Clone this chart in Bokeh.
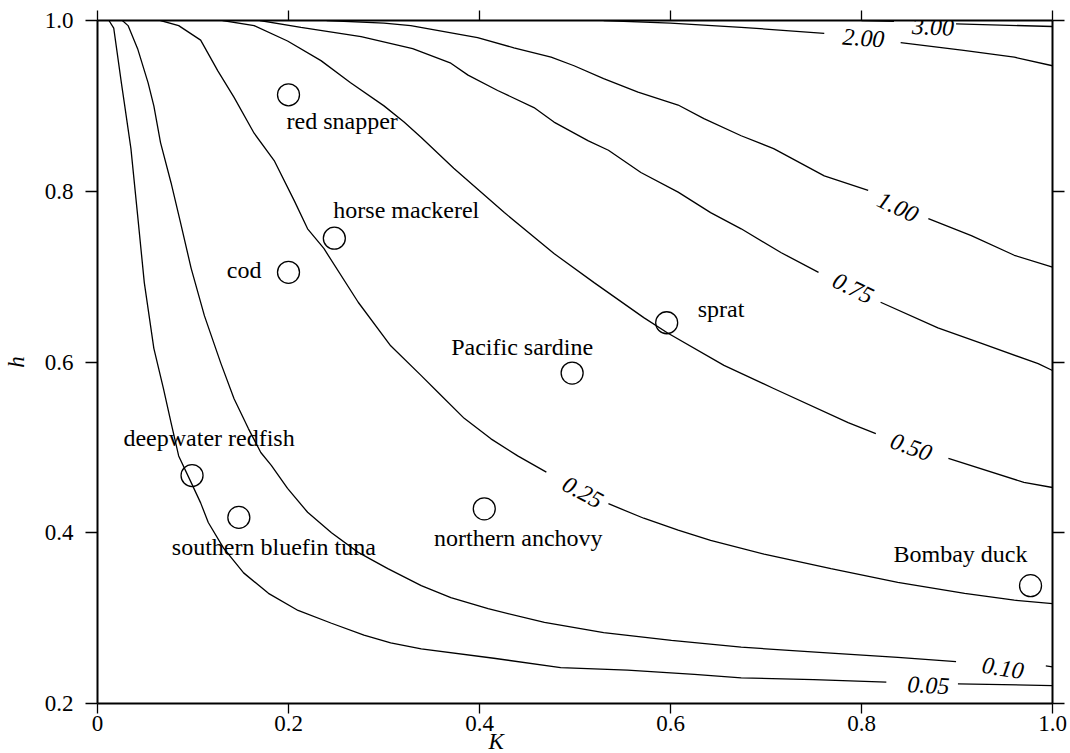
import numpy as np
from bokeh.plotting import figure
from bokeh.models import Range1d, LinearAxis, FixedTicker, ColumnDataSource, LabelSet, Title
from bokeh.core.properties import value
from bokeh.embed import file_html
from bokeh.resources import INLINE

# ---------------- data ----------------
# contour lines over (K, h)
c005_K = [0.012, 0.017, 0.025, 0.028, 0.035, 0.042, 0.049, 0.059, 0.069, 0.077, 0.085, 0.098, 0.108, 0.116,
          0.132, 0.153, 0.179, 0.210, 0.245, 0.279, 0.307, 0.339, 0.415, 0.485, 0.555, 0.625, 0.674, 0.750,
          0.826, 0.901, 1.0]
c005_h = [1.0, 0.991, 0.927, 0.904, 0.850, 0.772, 0.693, 0.616, 0.569, 0.529, 0.490, 0.459, 0.435, 0.412,
          0.382, 0.353, 0.329, 0.309, 0.294, 0.280, 0.271, 0.264, 0.253, 0.242, 0.239, 0.234, 0.230, 0.228,
          0.225, 0.223, 0.221]

c010_K = [0.026, 0.032, 0.042, 0.053, 0.059, 0.066, 0.077, 0.087, 0.098, 0.112, 0.129, 0.143, 0.158, 0.171,
          0.182, 0.199, 0.220, 0.245, 0.273, 0.304, 0.339, 0.370, 0.409, 0.468, 0.530, 0.601, 0.674, 0.768,
          0.838, 0.899, 0.993, 1.0]
c010_h = [1.0, 0.994, 0.967, 0.927, 0.900, 0.857, 0.810, 0.763, 0.710, 0.654, 0.599, 0.557, 0.522, 0.494,
          0.479, 0.452, 0.424, 0.400, 0.377, 0.358, 0.338, 0.324, 0.311, 0.295, 0.283, 0.274, 0.266, 0.259,
          0.254, 0.249, 0.244, 0.243]

c025_K = [0.066, 0.085, 0.108, 0.126, 0.143, 0.164, 0.185, 0.206, 0.220, 0.237, 0.273, 0.307, 0.339, 0.357,
          0.384, 0.412, 0.440, 0.470, 0.535, 0.572, 0.608, 0.642, 0.698, 0.768, 0.838, 0.908, 0.960, 1.0]
c025_h = [1.0, 0.994, 0.977, 0.941, 0.910, 0.868, 0.836, 0.789, 0.756, 0.733, 0.670, 0.619, 0.584, 0.564,
          0.534, 0.510, 0.490, 0.471, 0.434, 0.417, 0.403, 0.391, 0.375, 0.358, 0.342, 0.329, 0.321, 0.317]

c050_K = [0.131, 0.164, 0.199, 0.234, 0.265, 0.300, 0.321, 0.339, 0.373, 0.426, 0.478, 0.520, 0.572, 0.597,
          0.656, 0.708, 0.786, 0.815, 0.891, 0.970, 1.0]
c050_h = [1.0, 0.994, 0.976, 0.953, 0.927, 0.900, 0.881, 0.863, 0.827, 0.775, 0.727, 0.693, 0.652, 0.634,
          0.596, 0.569, 0.529, 0.516, 0.487, 0.459, 0.453]

c075_K = [0.17, 0.213, 0.276, 0.33, 0.370, 0.388, 0.419, 0.457, 0.478, 0.514, 0.535, 0.569, 0.608, 0.642,
          0.674, 0.716, 0.755, 0.820, 0.880, 0.925, 0.985, 1.0]
c075_h = [1.0, 0.992, 0.981, 0.967, 0.950, 0.936, 0.918, 0.898, 0.881, 0.859, 0.848, 0.822, 0.799, 0.775,
          0.756, 0.728, 0.705, 0.670, 0.640, 0.622, 0.598, 0.590]

c100_K = [0.24, 0.30, 0.328, 0.398, 0.436, 0.475, 0.499, 0.530, 0.566, 0.608, 0.635, 0.674, 0.708, 0.761,
          0.807, 0.870, 0.915, 0.960, 1.0]
c100_h = [1.0, 0.997, 0.994, 0.980, 0.968, 0.957, 0.947, 0.932, 0.916, 0.901, 0.885, 0.865, 0.850, 0.818,
          0.801, 0.768, 0.748, 0.725, 0.711]

c200_K = [0.53, 0.60, 0.674, 0.761, 0.841, 0.907, 0.960, 1.0]
c200_h = [1.0, 0.997, 0.992, 0.985, 0.974, 0.965, 0.957, 0.947]

c300_K = [0.80, 0.834, 0.899, 1.0]
c300_h = [1.0, 0.999, 0.996, 0.993]

contour_levels = ["0.05", "0.10", "0.25", "0.50", "0.75", "1.00", "2.00", "3.00"]
contour_K = [c005_K, c010_K, c025_K, c050_K, c075_K, c100_K, c200_K, c300_K]
contour_h = [c005_h, c010_h, c025_h, c050_h, c075_h, c100_h, c200_h, c300_h]

# where each contour's label sits (K, h) and the K-interval left open for it
label_K = [0.870, 0.948, 0.508, 0.852, 0.791, 0.838, 0.802, 0.875]
label_h = [0.221, 0.241, 0.447, 0.500, 0.686, 0.781, 0.979, 0.992]
label_angle = [-3, -9, -28, -20, -26, -25, -4, -2]
gap_lo = [0.83, 0.90, 0.475, 0.82, 0.76, 0.81, 0.765, 0.84]
gap_hi = [0.895, 0.99, 0.53, 0.885, 0.815, 0.865, 0.835, 0.895]

# species
species = ["red snapper", "horse mackerel", "cod", "sprat", "Pacific sardine", "northern anchovy",
           "deepwater redfish", "southern bluefin tuna", "Bombay duck"]
species_K = [0.200, 0.248, 0.200, 0.596, 0.497, 0.405, 0.099, 0.148, 0.977]
species_h = [0.913, 0.745, 0.705, 0.646, 0.587, 0.428, 0.467, 0.418, 0.338]

x_ticks = [0, 0.2, 0.4, 0.6, 0.8, 1.0]
x_tick_labels = ["0", "0.2", "0.4", "0.6", "0.8", "1.0"]
y_ticks = [0.2, 0.4, 0.6, 0.8, 1.0]
y_tick_labels = ["0.2", "0.4", "0.6", "0.8", "1.0"]

# ---------------- styling ----------------
FONT = "Liberation Serif"
sp_dx = [-2, -1, -27, 31, -50, 34, 17, 35, -70]
sp_dy = [26, -28, -2, -14, -26, 29, -38, 30, -32]
sp_align = ["left", "left", "right", "left", "center", "center", "center", "center", "center"]

p = figure(width=1070, height=753, output_backend="svg", toolbar_location=None,
           x_range=Range1d(0, 1), y_range=Range1d(0.2, 1.0),
           x_axis_location=None, y_axis_location=None,
           min_border_left=96, min_border_right=18, min_border_top=20, min_border_bottom=50)
p.grid.visible = False
p.outline_line_color = None
p.background_fill_color = "white"
p.border_fill_color = "white"


def make_axis(ticks, labels, out_len, show_labels):
    ax = LinearAxis(ticker=FixedTicker(ticks=ticks))
    ax.axis_line_width = 2
    ax.axis_line_color = "black"
    ax.major_tick_line_width = 1.3
    ax.major_tick_line_color = "black"
    ax.major_tick_out = out_len
    ax.major_tick_in = 0
    ax.minor_tick_line_color = None
    if show_labels:
        ax.major_label_text_font = FONT
        ax.major_label_text_font_size = "23px"
        ax.major_label_text_color = "black"
        ax.major_label_overrides = {t: s for t, s in zip(ticks, labels)}
    else:
        ax.major_label_text_color = None
        ax.major_label_text_font_size = "1px"
        ax.major_label_standoff = 0
    return ax


bottom = make_axis(x_ticks, x_tick_labels, 10, True)
bottom.major_label_standoff = 2
left = make_axis(y_ticks, y_tick_labels, 12, True)
left.major_label_standoff = 12
left.axis_label = "h"
left.axis_label_text_font = FONT
left.axis_label_text_font_style = "italic"
left.axis_label_text_font_size = "23px"
left.axis_label_text_color = "black"
left.axis_label_standoff = 13
top = make_axis(x_ticks, x_tick_labels, 10, False)
right = make_axis(y_ticks, y_tick_labels, 12, False)
p.add_layout(bottom, "below")
p.add_layout(left, "left")
p.add_layout(top, "above")
p.add_layout(right, "right")

# x-axis title, placed below the tick labels
p.add_layout(Title(text="K", align="left", offset=391, standoff=-14, text_font=FONT,
                   text_font_style="italic", text_font_size="23px", text_color="black"), "below")

# contour lines, left open where the label sits
xs, ys = [], []
for K, h, lo, hi in zip(contour_K, contour_h, gap_lo, gap_hi):
    K = np.array(K)
    h = np.array(h)
    m1 = K <= lo
    m2 = K >= hi
    if m1.sum() > 1:
        xs.append(K[m1].tolist()); ys.append(h[m1].tolist())
    if m2.sum() > 1:
        xs.append(K[m2].tolist()); ys.append(h[m2].tolist())
p.multi_line(xs, ys, line_color="black", line_width=1.3)

lab_src = ColumnDataSource(dict(x=label_K, y=label_h, text=contour_levels, angle=label_angle))
p.add_layout(LabelSet(x="x", y="y", text="text", angle="angle", angle_units="deg", source=lab_src,
                      text_font=value(FONT), text_font_style="italic", text_font_size="24px",
                      text_align="center", text_baseline="middle", text_color="black"))

# species markers and names
sp_src = ColumnDataSource(dict(x=species_K, y=species_h, name=species, dx=sp_dx, dy=sp_dy, align=sp_align))
p.scatter("x", "y", source=sp_src, size=22, fill_color=None, line_color="black", line_width=1.3)
p.text("x", "y", text="name", source=sp_src, x_offset="dx", y_offset="dy", text_align="align",
       text_baseline="middle", text_font=value(FONT), text_font_size="24px", text_color="black")

open("out.html", "w").write(file_html(p, INLINE))
